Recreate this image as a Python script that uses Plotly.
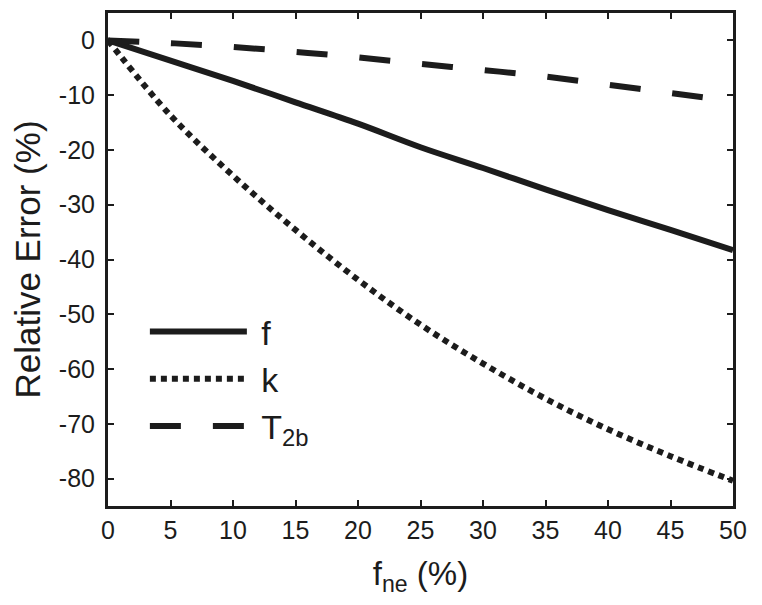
import plotly.graph_objects as go

fne = [0, 5, 10, 15, 20, 25, 30, 35, 40, 45, 50]
err_f = [0, -3.7, -7.4, -11.3, -15.2, -19.5, -23.3, -27.2, -31.0, -34.6, -38.3]
err_k = [0, -13.7, -24.7, -34.6, -43.7, -51.9, -59.0, -65.4, -71.0, -75.9, -80.4]
err_t2b = [0, -0.5, -1.2, -2.1, -3.1, -4.3, -5.4, -6.6, -8.1, -9.6, -11.1]

x_ticks = [0, 5, 10, 15, 20, 25, 30, 35, 40, 45, 50]
x_ticklabels = ["0", "5", "10", "15", "20", "25", "30", "35", "40", "45", "50"]
y_ticks = [0, -10, -20, -30, -40, -50, -60, -70, -80]
y_ticklabels = ["0", "-10", "-20", "-30", "-40", "-50", "-60", "-70", "-80"]

names = ["f", "k", "T<sub>2b</sub>"]
col = "#1c1c1c"
font_family = "Liberation Sans, Arial, sans-serif"
pad = "\u00a0"

fig = go.Figure()
fig.add_trace(go.Scatter(x=fne, y=err_f, name=pad + names[0], mode="lines",
                         line=dict(color=col, width=6, shape="spline")))
fig.add_trace(go.Scatter(x=fne, y=err_k, name=pad + names[1], mode="lines",
                         line=dict(color=col, width=6, dash="6px,5px", shape="spline")))
fig.add_trace(go.Scatter(x=fne, y=err_t2b, name=pad + names[2], mode="lines",
                         line=dict(color=col, width=6, dash="31px,32px", shape="spline")))

axis_common = dict(
    showline=True, linecolor=col, linewidth=3, mirror="ticks",
    ticks="inside", ticklen=6, tickwidth=2, tickcolor=col,
    showgrid=False, zeroline=False, automargin=False,
    tickfont=dict(size=25, color=col, family=font_family),
)

fig.update_xaxes(range=[0, 50], tickmode="array", tickvals=x_ticks, ticktext=x_ticklabels,
                 ticklabelstandoff=0,
                 title=dict(text="f<sub>ne</sub> (%)", font=dict(size=33, color=col, family=font_family), standoff=19),
                 **axis_common)
fig.update_yaxes(range=[-85, 5], tickmode="array", tickvals=y_ticks, ticktext=y_ticklabels,
                 ticklabelstandoff=5,
                 title=dict(text="Relative Error (%)", font=dict(size=35, color=col, family=font_family), standoff=13),
                 **axis_common)

fig.update_layout(
    width=762, height=605,
    margin=dict(l=100, r=37, t=5, b=107),
    plot_bgcolor="white", paper_bgcolor="white",
    font=dict(family=font_family, color=col),
    legend=dict(x=0.059, y=0.412, xanchor="left", yanchor="top",
                font=dict(size=34, color=col, family=font_family),
                itemwidth=97, bgcolor="rgba(0,0,0,0)", tracegroupgap=0),
)

fig.write_html("out.html")
